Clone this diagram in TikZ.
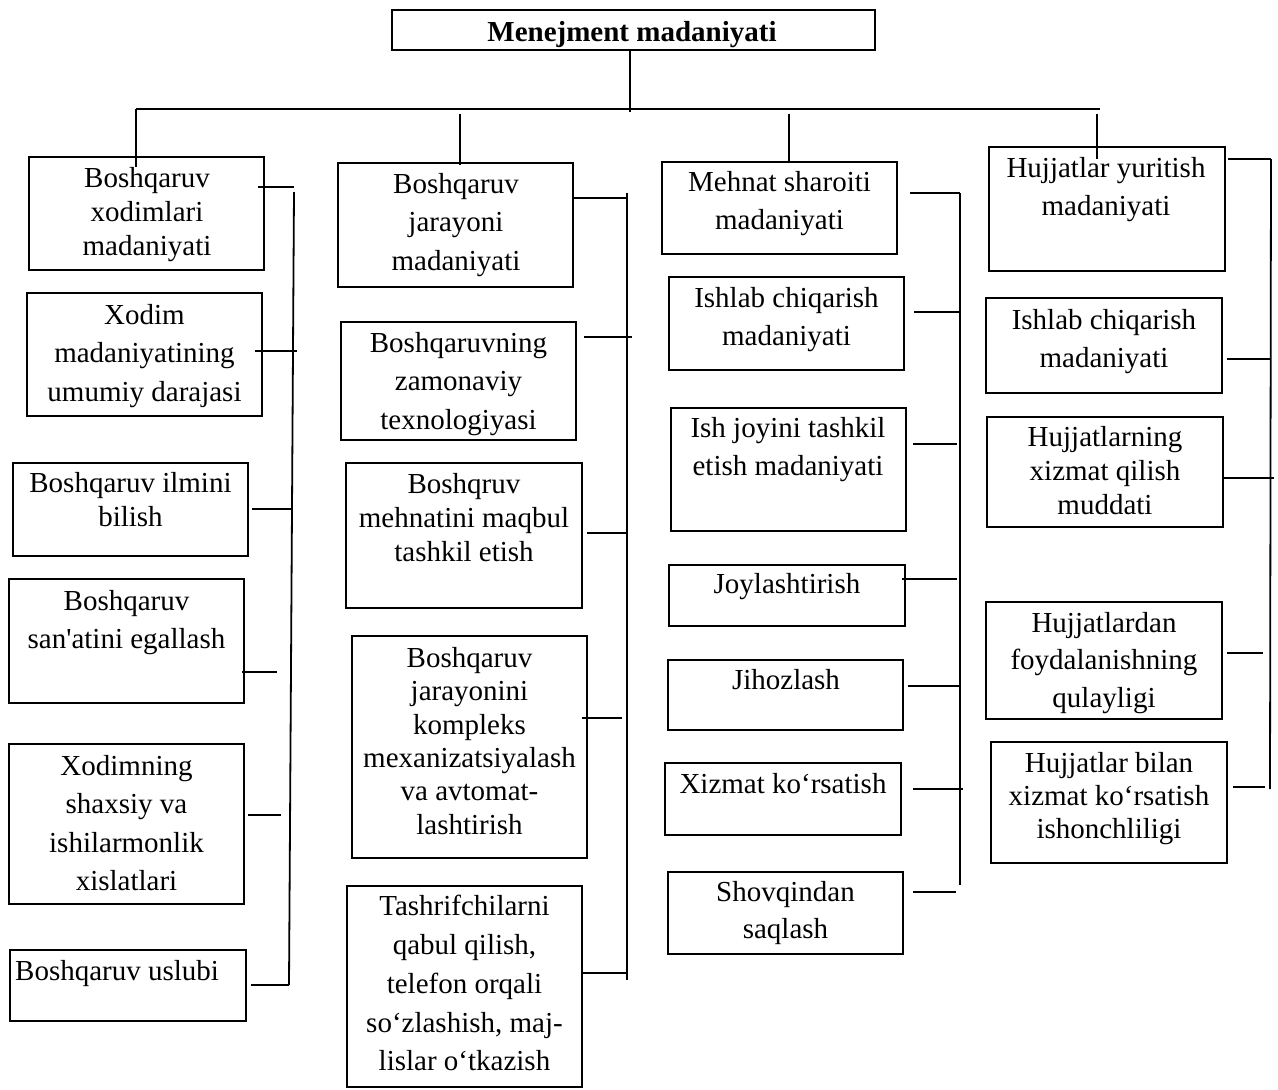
\documentclass[tikz,border=0pt]{standalone}
\usepackage{fontspec}
\setmainfont{Liberation Serif}[Ligatures=TeXOff]
\begin{document}
\begin{tikzpicture}[x=1pt,y=-1pt,
  box/.style={draw, line width=1.8pt, inner sep=0pt, rectangle},
  txt/.style={inner sep=0pt, align=center, anchor=north, font=\fontsize{29}{34}\selectfont},
  loose/.style={font=\fontsize{29}{38.5}\selectfont},
  link/.style={line width=1.8pt}]
\useasboundingbox (0,0) rectangle (1278,1090);
% box given by its corners: name, x1, y1, x2, y2
\newcommand\bx[5]{\node[box, minimum width={(#4)-(#2)}, minimum height={(#5)-(#3)}] (#1) at ({((#2)+(#4))/2},{((#3)+(#5))/2}) {};}

% ---- title ----
\bx{top}{392}{10}{875}{50}
\node[txt, font=\fontsize{29}{34}\selectfont\bfseries] (topt) at (632,21) {Menejment madaniyati};

% ---- column 1 ----
\bx{a1}{29}{157}{264}{270}
\bx{a2}{27}{293}{262}{416}
\bx{a3}{13}{463}{248}{556}
\bx{a4}{9}{579}{244}{703}
\bx{a5}{9}{744}{244}{904}
\bx{a6}{10}{950}{246}{1021}
\node[txt] (a1t) at (147,167) {Boshqaruv\\xodimlari\\madaniyati};
\node[txt, loose] (a2t) at (144.5,304) {Xodim\\madaniyatining\\umumiy darajasi};
\node[txt] (a3t) at (130.5,472) {Boshqaruv ilmini\\bilish};
\node[txt, loose] (a4t) at (126.5,590) {Boshqaruv\\san'atini egallash};
\node[txt, loose] (a5t) at (126.5,755) {Xodimning\\shaxsiy va\\ishilarmonlik\\xislatlari};
\node[txt, anchor=north west] (a6t) at (15,960) {Boshqaruv uslubi};

% ---- column 2 ----
\bx{b1}{338}{163}{573}{287}
\bx{b2}{341}{322}{576}{440}
\bx{b3}{346}{463}{582}{608}
\bx{b4}{352}{636}{587}{858}
\bx{b5}{347}{886}{582}{1087}
\node[txt, loose] (b1t) at (456,173) {Boshqaruv\\jarayoni\\madaniyati};
\node[txt, loose] (b2t) at (458.5,332) {Boshqaruvning\\zamonaviy\\texnologiyasi};
\node[txt] (b3t) at (464,473) {Boshqruv\\mehnatini maqbul\\tashkil etish};
\node[txt, font=\fontsize{29}{33.4}\selectfont] (b4t) at (469.5,647) {Boshqaruv\\jarayonini\\kompleks\\mexanizatsiyalash\\va avtomat-\\lashtirish};
\node[txt, font=\fontsize{29}{38.8}\selectfont] (b5t) at (464.5,895) {Tashrifchilarni\\qabul qilish,\\telefon orqali\\so‘zlashish, maj-\\lislar o‘tkazish};

% ---- column 3 ----
\bx{c1}{662}{162}{897}{254}
\bx{c2}{669}{277}{904}{370}
\bx{c3}{671}{408}{906}{531}
\bx{c4}{669}{565}{905}{626}
\bx{c5}{668}{660}{903}{730}
\bx{c6}{665}{763}{901}{835}
\bx{c7}{668}{872}{903}{954}
\node[txt, loose] (c1t) at (779.5,171) {Mehnat sharoiti\\madaniyati};
\node[txt, loose] (c2t) at (786.5,287) {Ishlab chiqarish\\madaniyati};
\node[txt, loose] (c3t) at (788,417) {Ish joyini tashkil\\etish madaniyati};
\node[txt] (c4t) at (787,573) {Joylashtirish};
\node[txt] (c5t) at (786,669) {Jihozlash};
\node[txt] (c6t) at (783,773) {Xizmat ko‘rsatish};
\node[txt, font=\fontsize{29}{37}\selectfont] (c7t) at (785.5,881) {Shovqindan\\saqlash};

% ---- column 4 ----
\bx{d1}{989}{147}{1225}{271}
\bx{d2}{986}{298}{1222}{393}
\bx{d3}{987}{417}{1223}{527}
\bx{d4}{986}{602}{1222}{719}
\bx{d5}{991}{742}{1227}{863}
\node[txt, loose] (d1t) at (1106,157) {Hujjatlar yuritish\\madaniyati};
\node[txt, loose] (d2t) at (1104,309) {Ishlab chiqarish\\madaniyati};
\node[txt] (d3t) at (1105,426) {Hujjatlarning\\xizmat qilish\\muddati};
\node[txt, font=\fontsize{29}{37.5}\selectfont] (d4t) at (1104,612) {Hujjatlardan\\foydalanishning\\qulayligi};
\node[txt, font=\fontsize{29}{33}\selectfont] (d5t) at (1109,752) {Hujjatlar bilan\\xizmat ko‘rsatish\\ishonchliligi};

% ---- top distribution ----
\coordinate (root) at (630,112);
\coordinate (busL) at (136,109);
\coordinate (busR) at (1100,109);
\draw[link] (top.south -| root) -- (root);
\draw[link] (busL) -- (busR);
\draw[link] (busL) -- (136,167);
\draw[link] (460,114) -- (460,165);
\draw[link] (789,114) -- (789,163);
\draw[link] (1097,114) -- (1097,159);

% ---- column buses ----
\coordinate (v1a) at (294,192); \coordinate (v1b) at (289,985);
\coordinate (v2a) at (627,193); \coordinate (v2b) at (627,980);
\coordinate (v3a) at (960,193); \coordinate (v3b) at (960,885);
\coordinate (v4a) at (1271,159); \coordinate (v4b) at (1270,789);
\draw[link] (v1a) -- (v1b);
\draw[link] (v2a) -- (v2b);
\draw[link] (v3a) -- (v3b);
\draw[link] (v4a) -- (v4b);

% ---- stubs, column 1 ----
\draw[link] (258,187) -- (294,187);
\draw[link] (255,351) -- (297,351);
\draw[link] (252,509) -- (292,509);
\draw[link] (242,672) -- (277,672);
\draw[link] (248,815) -- (281,815);
\draw[link] (251,985) -- (v1b);

% ---- stubs, column 2 ----
\draw[link] (b1.east |- v2a) ++(0,5) -- (627,198);
\draw[link] (584,337) -- (632,337);
\draw[link] (587,533) -- (627,533);
\draw[link] (582,718) -- (622,718);
\draw[link] (582,973) -- (627,973);

% ---- stubs, column 3 ----
\draw[link] (910,193) -- (v3a);
\draw[link] (914,312) -- (960,312);
\draw[link] (913,444) -- (957,444);
\draw[link] (902,579) -- (957,579);
\draw[link] (908,686) -- (960,686);
\draw[link] (913,789) -- (963,789);
\draw[link] (913,892) -- (956,892);

% ---- stubs, column 4 ----
\draw[link] (1228,159) -- (v4a);
\draw[link] (1227,359) -- (1271,359);
\draw[link] (1223,478) -- (1274,478);
\draw[link] (1227,653) -- (1263,653);
\draw[link] (1233,787) -- (1265,787);
\end{tikzpicture}
\end{document}
